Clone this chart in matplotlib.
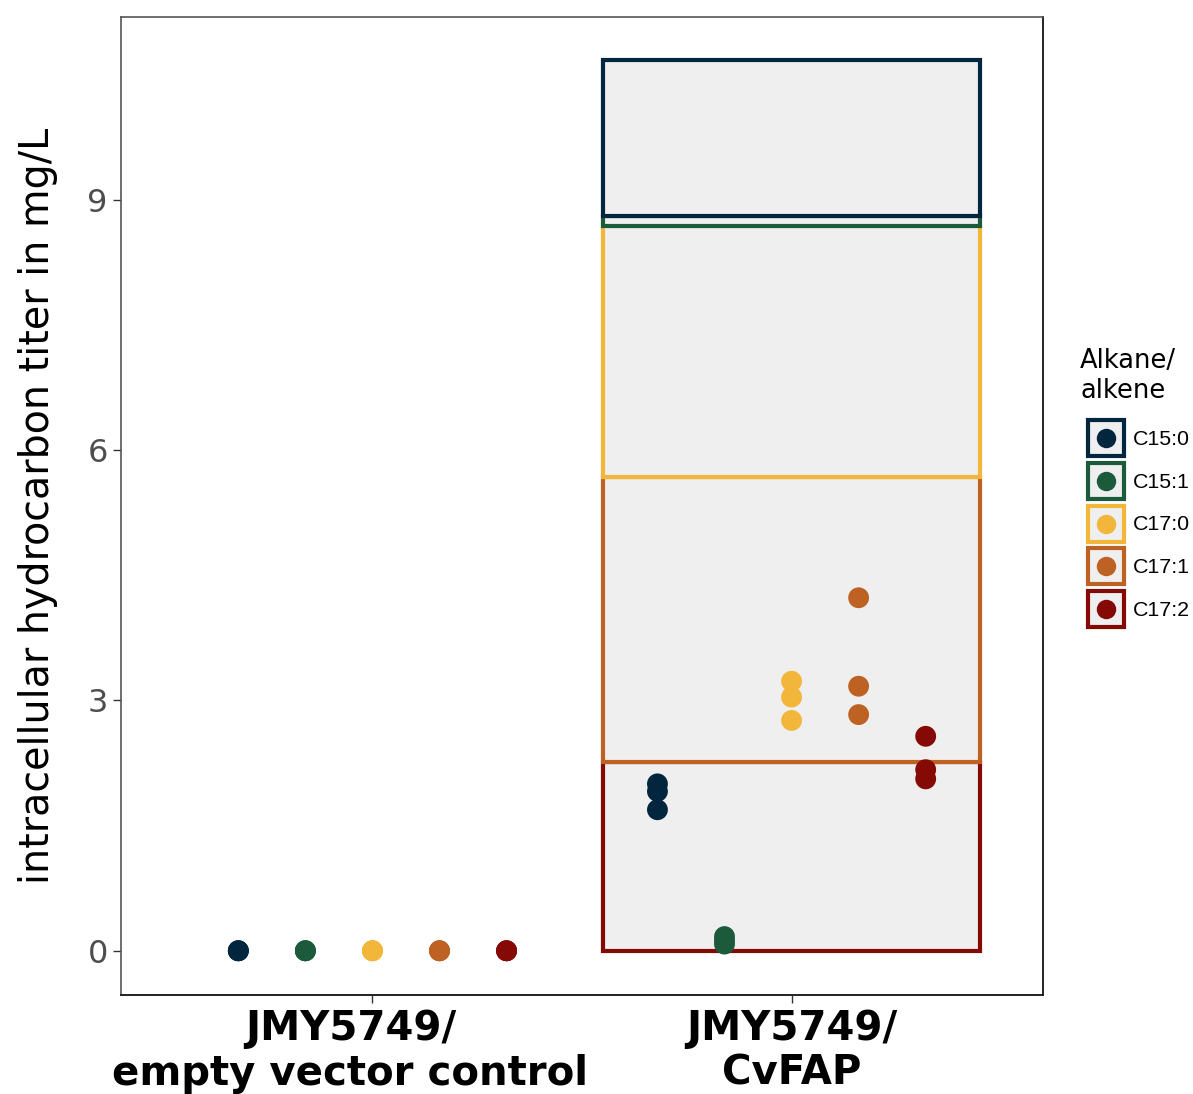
import numpy as np
import matplotlib
matplotlib.use("Agg")
import matplotlib.pyplot as plt
import matplotlib.transforms as mtransforms
from matplotlib.patches import Rectangle
from matplotlib.lines import Line2D
from matplotlib.legend_handler import HandlerBase

strains = ["JMY5749/\nempty vector control", "JMY5749/\nCvFAP"]
compounds = ["C15:0", "C15:1", "C17:0", "C17:1", "C17:2"]
colors = ["#02263E", "#1C5A3C", "#F2B63B", "#BD6223", "#850904"]

# replicate titers (mg/L), one list per compound, per strain
control = {
    "C15:0": [0.0, 0.0, 0.0],
    "C15:1": [0.0, 0.0, 0.0],
    "C17:0": [0.0, 0.0, 0.0],
    "C17:1": [0.0, 0.0, 0.0],
    "C17:2": [0.0, 0.0, 0.0],
}
cvfap = {
    "C15:0": [2.00, 1.91, 1.69],
    "C15:1": [0.17, 0.12, 0.08],
    "C17:0": [3.23, 3.04, 2.76],
    "C17:1": [4.23, 3.17, 2.83],
    "C17:2": [2.57, 2.17, 2.06],
}
replicates = [control, cvfap]

BAR_FILL = "#EFEFEF"


class BoxDotHandler(HandlerBase):
    """Legend key: outlined grey square with a dot in the middle."""

    def __init__(self, shift=6.0):
        super().__init__()
        self.shift = shift

    def create_artists(self, legend, orig, xdescent, ydescent, width, height,
                       fontsize, trans):
        col = orig.get_color()
        x0 = -xdescent + self.shift
        y0 = -ydescent
        box = Rectangle((x0, y0), width, height, facecolor=BAR_FILL,
                        edgecolor=col, linewidth=3.0, transform=trans)
        dot = Line2D([x0 + width / 2], [y0 + height / 2], marker="o",
                     linestyle="none", markersize=14, markerfacecolor=col,
                     markeredgecolor="none", transform=trans)
        return [box, dot]


fig = plt.figure(figsize=(11.93, 10.94), dpi=100)
ax = fig.add_axes([0.1014, 0.0905, 0.7729, 0.894])

xpos = np.arange(1, len(strains) + 1)
dodge = 0.8 / len(compounds)

# stacked mean bars, last compound at the bottom
for i, reps in enumerate(replicates):
    bottom = 0.0
    for comp, col in reversed(list(zip(compounds, colors))):
        m = np.mean(reps[comp])
        if m <= 0:
            continue
        ax.bar(xpos[i], m, width=0.9, bottom=bottom, facecolor=BAR_FILL,
               edgecolor=col, linewidth=3.0, zorder=2)
        bottom += m

# individual replicates, dodged by compound
for i, reps in enumerate(replicates):
    for j, (comp, col) in enumerate(zip(compounds, colors)):
        vals = reps[comp]
        xs = np.full(len(vals), xpos[i] + (j - 2) * dodge)
        ax.scatter(xs, vals, s=225, color=col, edgecolors="none", zorder=3)

ax.set_xlim(0.4, 2.6)
ax.set_ylim(-0.53, 11.19)
ax.set_yticks([0, 3, 6, 9])
ax.set_xticks(xpos)
ax.set_xticklabels(strains, fontsize=29, fontweight="bold", color="black",
                   linespacing=1.15)
ax.tick_params(axis="y", labelsize=23, labelcolor="#4D4D4D", color="#333333",
               length=6, width=1)
ax.tick_params(axis="x", color="#333333", length=6, width=1, pad=4)
# the control label sits a little left of its tick
first = ax.get_xticklabels()[0]
first.set_transform(first.get_transform() +
                    mtransforms.ScaledTranslation(-0.22, 0, fig.dpi_scale_trans))
ax.set_ylabel("intracellular hydrocarbon titer in mg/L", fontsize=28.5, labelpad=21)

for side in ["left", "top"]:
    ax.spines[side].set_color("#555555")
    ax.spines[side].set_linewidth(1.2)
for side in ["right", "bottom"]:
    ax.spines[side].set_color("#222222")
    ax.spines[side].set_linewidth(1.4)

handles = [Line2D([], [], color=c) for c in colors]
leg = fig.legend(handles, compounds, handler_map={Line2D: BoxDotHandler(shift=6.0)},
                 loc="upper left", bbox_to_anchor=(1071.5 / 1193, 1 - 339 / 1094),
                 frameon=False, prop={"family": "Liberation Sans", "size": 15.4},
                 title="Alkane/\nalkene", title_fontproperties={"size": 18.5},
                 handlelength=1.68, handleheight=2.21,
                 handletextpad=0.8, labelspacing=0.315, borderaxespad=0)
leg._legend_box.align = "left"
leg._legend_box.sep = 12

fig.savefig("out.png", dpi=100)
